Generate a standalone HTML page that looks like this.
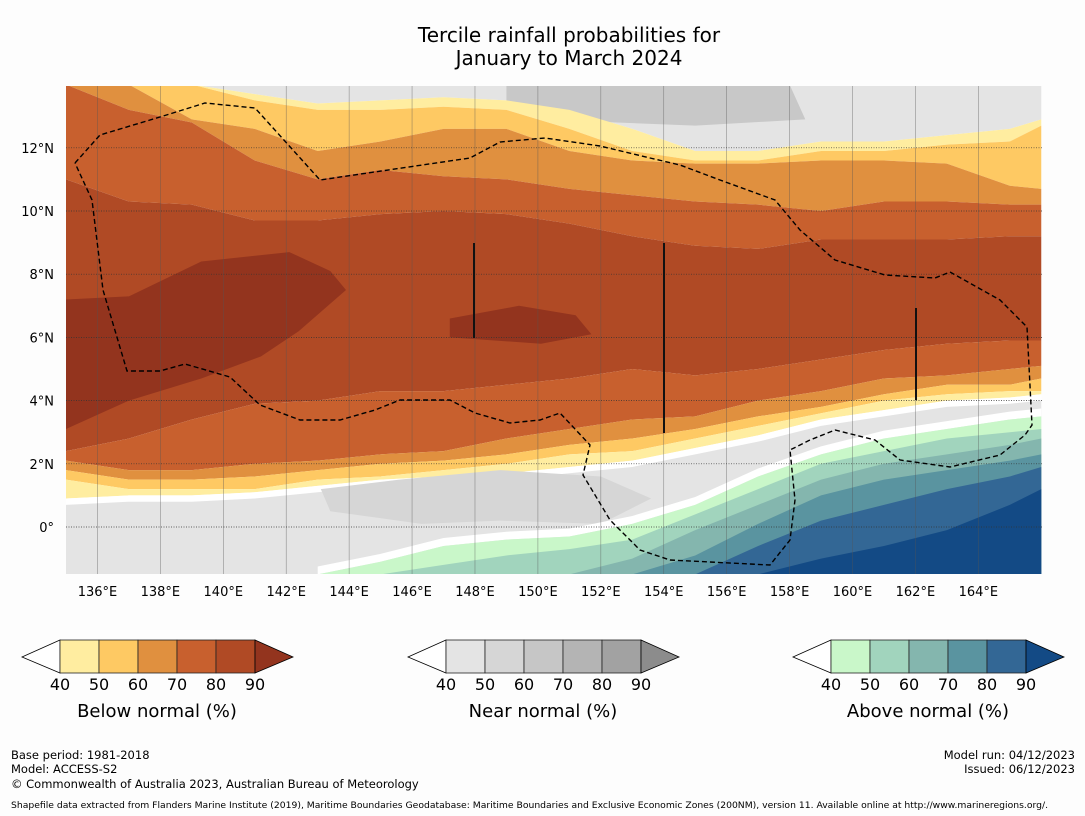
<!DOCTYPE html>
<html><head><meta charset="utf-8"><style>
body{margin:0;background:#fdfdfd;width:1085px;height:816px;overflow:hidden;font-family:"DejaVu Sans","Liberation Sans",sans-serif}
svg{position:absolute;left:0;top:0}
</style></head><body>
<svg id="s" width="1085" height="816">
<text x="569" y="42" text-anchor="middle" font-size="20">Tercile rainfall probabilities for</text>
<text x="569" y="65" text-anchor="middle" font-size="20">January to March 2024</text>
<defs><clipPath id="mc"><rect x="66" y="86" width="976" height="488"/></clipPath></defs>
<g id="map" clip-path="url(#mc)"></g>
<g id="ov"></g>
<g id="cb"></g>
<text x="11" y="759" font-size="11.5">Base period: 1981-2018</text>
<text x="11" y="773" font-size="11.5">Model: ACCESS-S2</text>
<text x="11" y="788" font-size="11.5">© Commonwealth of Australia 2023, Australian Bureau of Meteorology</text>
<text x="1075" y="759" font-size="11.5" text-anchor="end">Model run: 04/12/2023</text>
<text x="1075" y="773" font-size="11.5" text-anchor="end">Issued: 06/12/2023</text>
<text x="11" y="808" font-size="9.2" textLength="1037" lengthAdjust="spacingAndGlyphs">Shapefile data extracted from Flanders Marine Institute (2019), Maritime Boundaries Geodatabase: Maritime Boundaries and Exclusive Economic Zones (200NM), version 11. Available online at http://www.marineregions.org/.</text>
</svg>
<script>
const lons=[135,137,139,141,143,145,147,149,151,153,155,157,159,161,163,165,166];
const b1=[14,14,14,13.7,13.4,13.5,13.6,13.5,13.2,12.6,11.9,11.9,12.2,12.2,12.4,12.6,12.9];
const b2=[14,14,14,13.5,13.2,13.2,13.3,13.2,12.6,11.9,11.6,11.6,11.9,11.9,12.1,12.2,12.7];
const b3=[14,14,12.9,12.6,11.9,12.2,12.6,12.6,11.9,11.6,11.5,11.5,11.6,11.6,11.5,10.8,10.7];
const b4=[14,13.2,12.8,11.6,11.0,11.3,11.1,11.0,10.7,10.5,10.3,10.2,10.0,10.3,10.3,10.2,10.2];
const b5=[11.0,10.3,10.2,9.7,9.7,9.9,10.0,9.9,9.6,9.2,8.9,8.8,9.1,9.1,9.1,9.2,9.2];
const b6=[2.4,2.8,3.4,3.9,4.0,4.3,4.3,4.5,4.7,5.0,4.8,5.0,5.3,5.6,5.8,5.9,5.9];
const b7=[2.1,1.8,1.8,2.0,2.1,2.3,2.4,2.8,3.1,3.4,3.5,4.0,4.3,4.7,4.8,5.0,5.1];
const b8=[1.8,1.5,1.5,1.6,1.8,2.0,2.1,2.3,2.6,2.8,3.1,3.5,3.8,4.2,4.5,4.5,4.7];
const b9=[1.5,1.2,1.2,1.2,1.5,1.6,1.8,2.0,2.3,2.4,2.8,3.2,3.6,4.0,4.2,4.3,4.3];
const b10=[0.9,1.0,1.0,1.1,1.3,1.5,1.6,1.7,1.9,2.1,2.5,2.9,3.4,3.7,4.0,4.1,4.2];
const gLons=[143,145,147,149,151,153,155,157,159,161,163,165,166];
const g0=[-1.5,-1.1,-0.6,-0.4,-0.3,0.1,0.7,1.6,2.3,2.8,3.1,3.4,3.5];
const g1=[-1.5,-1.5,-1.2,-0.9,-0.7,-0.4,0.4,1.2,2.0,2.4,2.8,3.0,3.1];
const g2=[-1.5,-1.5,-1.5,-1.5,-1.5,-1.0,-0.1,0.7,1.5,2.0,2.3,2.6,2.8];
const g3=[-1.5,-1.5,-1.5,-1.5,-1.5,-1.5,-0.9,0.1,1.0,1.5,1.8,2.1,2.3];
const g4=[-1.5,-1.5,-1.5,-1.5,-1.5,-1.5,-1.5,-0.6,0.2,0.7,1.2,1.6,1.9];
const g5=[-1.5,-1.5,-1.5,-1.5,-1.5,-1.5,-1.5,-1.5,-1.0,-0.6,-0.1,0.7,1.2];
const core90Lon=[135,137,139.3,142.1,143.4,143.9,142.4,141.2,139.3,137,135];
const core90Lat=[7.2,7.3,8.4,8.7,8.1,7.5,6.2,5.4,4.7,4.0,3.1];
const mid90Lon=[147.2,149.4,151.2,151.7,150.1,147.2];
const mid90Lat=[6.6,7.0,6.7,6.1,5.8,6.0];
const grayBlobLon=[143.1,145.6,148.8,152,153.6,152,148.8,146.3,143.4];
const grayBlobLat=[1.2,1.5,1.8,1.6,0.9,0.1,0.2,0.1,0.5];
const topGrayLon=[149,158,158.5,155,150,149];
const topGrayLat=[14,14,12.9,12.7,12.9,13.4];
const lonTicks=[136,138,140,142,144,146,148,150,152,154,156,158,160,162,164];
const latTicks=[0,2,4,6,8,10,12];

const NS='http://www.w3.org/2000/svg';
const X=lon=>66+(lon-135)*31.46, Y=lat=>527-lat*31.6;
const map=document.getElementById('map'), ov=document.getElementById('ov'), cb=document.getElementById('cb');
function mk(tag,attrs,parent){const e=document.createElementNS(NS,tag);for(const k in attrs)e.setAttribute(k,attrs[k]);parent.appendChild(e);return e;}
function band(L,top,bot,fill,name){
  let p=L.map((l,i)=>X(l)+','+Y(top[i])).concat(L.map((l,i)=>X(l)+','+Y(bot[i])).reverse());
  const e=mk('polygon',{points:p.join(' '),fill:fill},map);
  
  
}
function poly(L,A,fill,name){
  const e=mk('polygon',{points:L.map((l,i)=>X(l)+','+Y(A[i])).join(' '),fill:fill},map);
  
  
}
const TOP=lons.map(()=>14.5), BOT=lons.map(()=>-2);
band(lons,TOP,b1,'#e4e4e4','near-normal-40-north');
poly(topGrayLon,topGrayLat,'#c8c8c8','near-normal-60-north');
band(lons,b1,b2,'#ffeda0','below-40-north');
band(lons,b2,b3,'#fec963','below-50-north');
band(lons,b3,b4,'#e0903f','below-60-north');
band(lons,b4,b5,'#c8602e','below-70-north');
band(lons,b5,b6,'#b04a25','below-80');
band(lons,b6,b7,'#c8602e','below-70-south');
band(lons,b7,b8,'#e0903f','below-60-south');
band(lons,b8,b9,'#fec963','below-50-south');
band(lons,b9,b10,'#ffeda0','below-40-south');
band(lons,b10,b10.map(v=>v-0.2),'#ffffff','white-gap');
band(lons,b10.map(v=>v-0.2),BOT,'#e4e4e4','near-normal-40-south');
poly(grayBlobLon,grayBlobLat,'#d6d6d6','near-normal-50-south');
poly(core90Lon,core90Lat,'#93341e','below-90-west');
poly(mid90Lon,mid90Lat,'#93341e','below-90-central');
const gB=gLons.map(()=>-2);
band(gLons,g0.map(v=>v+0.25),g0,'#ffffff','green-white-gap');
band(gLons,g0,gB,'#c9f7c9','above-40');
band(gLons,g1,gB,'#a1d4bd','above-50');
band(gLons,g2,gB,'#84b6ae','above-60');
band(gLons,g3,gB,'#5a94a0','above-70');
band(gLons,g4,gB,'#336795','above-80');
band(gLons,g5,gB,'#134a85','above-90');

lonTicks.forEach(l=>{
  const ln=mk('line',{x1:X(l),x2:X(l),y1:86,y2:574,stroke:'#555','stroke-width':0.6,'stroke-opacity':0.6},map);
  
  
  const t=mk('text',{x:X(l),y:596,'font-size':13,'text-anchor':'middle'},ov);
  t.textContent=l+'°E';
  
  
});
latTicks.forEach(l=>{
  const ln=mk('line',{x1:66,x2:1042,y1:Y(l),y2:Y(l),stroke:'#333','stroke-width':0.7,'stroke-dasharray':'1,1.5'},map);
  
  
  const t=mk('text',{x:54,y:Y(l)+5,'font-size':13,'text-anchor':'end'},ov);
  t.textContent=l===0?'0°':l+'°N';
  
  
});
const eez=[[75,163],[100,135],[160,117],[205,103],[255,108],[320,180],[470,158],[500,142],[545,138],[600,146],[650,158],[680,165],[720,180],[775,200],[800,230],[835,260],[885,275],[935,278],[950,272],[1000,300],[1027,327],[1032,425],[1025,435],[1000,455],[950,467],[900,460],[875,440],[835,430],[810,440],[790,450],[795,500],[790,540],[770,565],[670,560],[640,550],[610,520],[583,475],[590,445],[560,413],[540,420],[510,423],[475,413],[450,400],[400,400],[375,410],[340,420],[300,420],[260,405],[230,377],[185,364],[160,371],[127,371],[103,290],[92,200],[75,163]];
const ez=mk('polyline',{points:eez.map(p=>p.join(',')).join(' '),fill:'none',stroke:'#000','stroke-width':1.4,'stroke-dasharray':'5,3'},map);


[[474,243,338],[664,243,433],[916,308,400]].forEach((v,i)=>{
  const ln=mk('line',{x1:v[0],x2:v[0],y1:v[1],y2:v[2],stroke:'#111','stroke-width':2},map);
  
  
});
const cbs=[{x:60,name:'Below normal (%)',cols:['#ffeda0','#fec963','#e0903f','#c8602e','#b04a25'],arrow:'#93341e',id:'below'},
{x:446,name:'Near normal (%)',cols:['#e4e4e4','#d6d6d6','#c6c6c6','#b4b4b4','#a2a2a2'],arrow:'#8c8c8c',id:'near'},
{x:831,name:'Above normal (%)',cols:['#c9f7c9','#a1d4bd','#84b6ae','#5a94a0','#336795'],arrow:'#134a85',id:'above'}];
const cbLabels=['40','50','60','70','80','90'];
cbs.forEach(c=>{
  const g=mk('g',{},cb);
  
  
  mk('polygon',{points:`${c.x},640 ${c.x-38},657 ${c.x},673`,fill:'#fff',stroke:'#000','stroke-width':0.8},g);
  c.cols.forEach((col,i)=>mk('rect',{x:c.x+i*39,y:640,width:39,height:33,fill:col,stroke:'#222','stroke-width':0.8},g));
  mk('polygon',{points:`${c.x+195},640 ${c.x+233},657 ${c.x+195},673`,fill:c.arrow,stroke:'#000','stroke-width':0.8},g);
  cbLabels.forEach((t,i)=>{const e=mk('text',{x:c.x+i*39,y:690,'font-size':16,'text-anchor':'middle'},g);e.textContent=t;});
  const tt=mk('text',{x:c.x+97,y:717,'font-size':18,'text-anchor':'middle'},g);tt.textContent=c.name;
});
</script>
</body></html>
